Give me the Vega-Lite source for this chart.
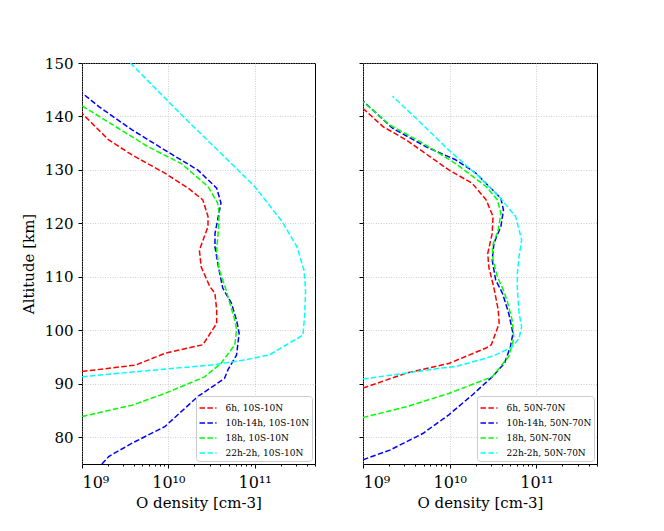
{
  "$schema": "https://vega.github.io/schema/vega-lite/v6.json",
  "padding": {"left": 20, "top": 55, "right": 5, "bottom": 5},
  "background": "white",
  "config": {
    "font": "DejaVu Serif",
    "view": {"stroke": "#000000", "strokeWidth": 1},
    "axis": {
      "labelFont": "DejaVu Serif", "titleFont": "DejaVu Serif",
      "labelFontSize": 15, "titleFontSize": 15, "titleFontWeight": "normal",
      "labelColor": "#000000", "titleColor": "#000000",
      "domain": false, "tickColor": "#000000",
      "grid": true, "gridColor": "#b0b0b0", "gridDash": [1, 1.5], "gridWidth": 0.6
    },
    "legend": {
      "labelFont": "DejaVu Serif", "labelFontSize": 9, "labelColor": "#000000",
      "symbolType": "stroke", "symbolStrokeWidth": 1.5, "symbolDash": [5.5, 2.4],
      "symbolSize": 289, "rowPadding": -4.5, "labelOffset": 8,
      "padding": 2.5, "strokeColor": "#cccccc", "fillColor": "rgba(255,255,255,0.85)",
      "cornerRadius": 3
    }
  },
  "datasets": {
    "prof": [
      {"p":"L","s":"6h, 10S-10N","a":140.6,"d":1e9},
      {"p":"L","s":"6h, 10S-10N","a":135.6,"d":2.04e9},
      {"p":"L","s":"6h, 10S-10N","a":132.8,"d":3.8e9},
      {"p":"L","s":"6h, 10S-10N","a":129.4,"d":9.12e9},
      {"p":"L","s":"6h, 10S-10N","a":126.6,"d":1.7e10},
      {"p":"L","s":"6h, 10S-10N","a":124.4,"d":2.51e10},
      {"p":"L","s":"6h, 10S-10N","a":121.3,"d":2.88e10},
      {"p":"L","s":"6h, 10S-10N","a":119.4,"d":2.88e10},
      {"p":"L","s":"6h, 10S-10N","a":115.0,"d":2.29e10},
      {"p":"L","s":"6h, 10S-10N","a":111.9,"d":2.4e10},
      {"p":"L","s":"6h, 10S-10N","a":108.2,"d":3.02e10},
      {"p":"L","s":"6h, 10S-10N","a":106.9,"d":3.47e10},
      {"p":"L","s":"6h, 10S-10N","a":103.8,"d":3.63e10},
      {"p":"L","s":"6h, 10S-10N","a":101.3,"d":3.63e10},
      {"p":"L","s":"6h, 10S-10N","a":97.3,"d":2.51e10},
      {"p":"L","s":"6h, 10S-10N","a":95.7,"d":9.12e9},
      {"p":"L","s":"6h, 10S-10N","a":93.5,"d":4.17e9},
      {"p":"L","s":"6h, 10S-10N","a":92.3,"d":1e9},

      {"p":"L","s":"10h-14h, 10S-10N","a":144.4,"d":1e9},
      {"p":"L","s":"10h-14h, 10S-10N","a":141.8,"d":1.58e9},
      {"p":"L","s":"10h-14h, 10S-10N","a":137.5,"d":3.8e9},
      {"p":"L","s":"10h-14h, 10S-10N","a":133.7,"d":9.12e9},
      {"p":"L","s":"10h-14h, 10S-10N","a":130.0,"d":2.19e10},
      {"p":"L","s":"10h-14h, 10S-10N","a":126.6,"d":3.63e10},
      {"p":"L","s":"10h-14h, 10S-10N","a":123.8,"d":4.07e10},
      {"p":"L","s":"10h-14h, 10S-10N","a":120.6,"d":3.72e10},
      {"p":"L","s":"10h-14h, 10S-10N","a":118.1,"d":3.47e10},
      {"p":"L","s":"10h-14h, 10S-10N","a":115.6,"d":3.47e10},
      {"p":"L","s":"10h-14h, 10S-10N","a":111.9,"d":3.8e10},
      {"p":"L","s":"10h-14h, 10S-10N","a":107.9,"d":4.27e10},
      {"p":"L","s":"10h-14h, 10S-10N","a":105.1,"d":5.37e10},
      {"p":"L","s":"10h-14h, 10S-10N","a":101.9,"d":6.17e10},
      {"p":"L","s":"10h-14h, 10S-10N","a":99.45,"d":6.61e10},
      {"p":"L","s":"10h-14h, 10S-10N","a":95.4,"d":6.17e10},
      {"p":"L","s":"10h-14h, 10S-10N","a":92.6,"d":4.9e10},
      {"p":"L","s":"10h-14h, 10S-10N","a":91.0,"d":4.47e10},
      {"p":"L","s":"10h-14h, 10S-10N","a":87.6,"d":2.19e10},
      {"p":"L","s":"10h-14h, 10S-10N","a":82.0,"d":9.12e9},
      {"p":"L","s":"10h-14h, 10S-10N","a":78.9,"d":3.8e9},
      {"p":"L","s":"10h-14h, 10S-10N","a":76.4,"d":2.04e9},
      {"p":"L","s":"10h-14h, 10S-10N","a":75.0,"d":1.7e9},

      {"p":"L","s":"18h, 10S-10N","a":142.0,"d":1e9},
      {"p":"L","s":"18h, 10S-10N","a":138.1,"d":2.45e9},
      {"p":"L","s":"18h, 10S-10N","a":134.3,"d":5.89e9},
      {"p":"L","s":"18h, 10S-10N","a":131.2,"d":1.41e10},
      {"p":"L","s":"18h, 10S-10N","a":126.9,"d":2.88e10},
      {"p":"L","s":"18h, 10S-10N","a":123.8,"d":3.72e10},
      {"p":"L","s":"18h, 10S-10N","a":121.9,"d":3.89e10},
      {"p":"L","s":"18h, 10S-10N","a":118.8,"d":3.8e10},
      {"p":"L","s":"18h, 10S-10N","a":115.0,"d":3.63e10},
      {"p":"L","s":"18h, 10S-10N","a":111.3,"d":3.89e10},
      {"p":"L","s":"18h, 10S-10N","a":107.5,"d":4.68e10},
      {"p":"L","s":"18h, 10S-10N","a":106.3,"d":4.9e10},
      {"p":"L","s":"18h, 10S-10N","a":101.9,"d":5.89e10},
      {"p":"L","s":"18h, 10S-10N","a":100.1,"d":6.17e10},
      {"p":"L","s":"18h, 10S-10N","a":97.3,"d":5.89e10},
      {"p":"L","s":"18h, 10S-10N","a":93.8,"d":4.07e10},
      {"p":"L","s":"18h, 10S-10N","a":91.3,"d":2.63e10},
      {"p":"L","s":"18h, 10S-10N","a":88.2,"d":9.12e9},
      {"p":"L","s":"18h, 10S-10N","a":86.0,"d":3.8e9},
      {"p":"L","s":"18h, 10S-10N","a":83.9,"d":1e9},

      {"p":"L","s":"22h-2h, 10S-10N","a":150.0,"d":3.63e9},
      {"p":"L","s":"22h-2h, 10S-10N","a":142.8,"d":1e10},
      {"p":"L","s":"22h-2h, 10S-10N","a":139.7,"d":1.55e10},
      {"p":"L","s":"22h-2h, 10S-10N","a":131.2,"d":5.37e10},
      {"p":"L","s":"22h-2h, 10S-10N","a":126.9,"d":1e11},
      {"p":"L","s":"22h-2h, 10S-10N","a":120.3,"d":2.09e11},
      {"p":"L","s":"22h-2h, 10S-10N","a":115.6,"d":3.09e11},
      {"p":"L","s":"22h-2h, 10S-10N","a":111.3,"d":3.72e11},
      {"p":"L","s":"22h-2h, 10S-10N","a":107.5,"d":3.89e11},
      {"p":"L","s":"22h-2h, 10S-10N","a":103.0,"d":3.8e11},
      {"p":"L","s":"22h-2h, 10S-10N","a":99.1,"d":3.63e11},
      {"p":"L","s":"22h-2h, 10S-10N","a":95.4,"d":1.48e11},
      {"p":"L","s":"22h-2h, 10S-10N","a":94.45,"d":7.59e10},
      {"p":"L","s":"22h-2h, 10S-10N","a":93.5,"d":3.16e10},
      {"p":"L","s":"22h-2h, 10S-10N","a":92.6,"d":7.08e9},
      {"p":"L","s":"22h-2h, 10S-10N","a":91.3,"d":1e9},

      {"p":"R","s":"6h, 50N-70N","a":141.5,"d":1e9},
      {"p":"R","s":"6h, 50N-70N","a":138.1,"d":1.7e9},
      {"p":"R","s":"6h, 50N-70N","a":135.6,"d":3.16e9},
      {"p":"R","s":"6h, 50N-70N","a":130.0,"d":9.77e9},
      {"p":"R","s":"6h, 50N-70N","a":127.5,"d":1.82e10},
      {"p":"R","s":"6h, 50N-70N","a":124.4,"d":2.63e10},
      {"p":"R","s":"6h, 50N-70N","a":121.3,"d":3.16e10},
      {"p":"R","s":"6h, 50N-70N","a":118.1,"d":3.09e10},
      {"p":"R","s":"6h, 50N-70N","a":114.4,"d":2.75e10},
      {"p":"R","s":"6h, 50N-70N","a":111.9,"d":2.82e10},
      {"p":"R","s":"6h, 50N-70N","a":107.9,"d":3.24e10},
      {"p":"R","s":"6h, 50N-70N","a":103.8,"d":3.63e10},
      {"p":"R","s":"6h, 50N-70N","a":101.3,"d":3.72e10},
      {"p":"R","s":"6h, 50N-70N","a":97.3,"d":3.02e10},
      {"p":"R","s":"6h, 50N-70N","a":96.7,"d":2.63e10},
      {"p":"R","s":"6h, 50N-70N","a":93.8,"d":9.77e9},
      {"p":"R","s":"6h, 50N-70N","a":92.0,"d":3.16e9},
      {"p":"R","s":"6h, 50N-70N","a":89.2,"d":1e9},

      {"p":"R","s":"10h-14h, 50N-70N","a":142.9,"d":1e9},
      {"p":"R","s":"10h-14h, 50N-70N","a":137.8,"d":2.19e9},
      {"p":"R","s":"10h-14h, 50N-70N","a":134.3,"d":5.37e9},
      {"p":"R","s":"10h-14h, 50N-70N","a":131.9,"d":1.17e10},
      {"p":"R","s":"10h-14h, 50N-70N","a":129.4,"d":2.0e10},
      {"p":"R","s":"10h-14h, 50N-70N","a":124.7,"d":3.89e10},
      {"p":"R","s":"10h-14h, 50N-70N","a":122.5,"d":4.17e10},
      {"p":"R","s":"10h-14h, 50N-70N","a":119.4,"d":3.89e10},
      {"p":"R","s":"10h-14h, 50N-70N","a":116.3,"d":3.24e10},
      {"p":"R","s":"10h-14h, 50N-70N","a":113.2,"d":3.09e10},
      {"p":"R","s":"10h-14h, 50N-70N","a":109.4,"d":3.39e10},
      {"p":"R","s":"10h-14h, 50N-70N","a":106.9,"d":4.07e10},
      {"p":"R","s":"10h-14h, 50N-70N","a":103.2,"d":4.79e10},
      {"p":"R","s":"10h-14h, 50N-70N","a":99.45,"d":5.37e10},
      {"p":"R","s":"10h-14h, 50N-70N","a":96.9,"d":5.01e10},
      {"p":"R","s":"10h-14h, 50N-70N","a":93.8,"d":4.27e10},
      {"p":"R","s":"10h-14h, 50N-70N","a":91.3,"d":3.09e10},
      {"p":"R","s":"10h-14h, 50N-70N","a":87.9,"d":1.82e10},
      {"p":"R","s":"10h-14h, 50N-70N","a":84.2,"d":9.77e9},
      {"p":"R","s":"10h-14h, 50N-70N","a":80.7,"d":4.9e9},
      {"p":"R","s":"10h-14h, 50N-70N","a":77.6,"d":2.04e9},
      {"p":"R","s":"10h-14h, 50N-70N","a":75.8,"d":1e9},

      {"p":"R","s":"18h, 50N-70N","a":142.8,"d":1e9},
      {"p":"R","s":"18h, 50N-70N","a":138.4,"d":2.04e9},
      {"p":"R","s":"18h, 50N-70N","a":135.0,"d":4.9e9},
      {"p":"R","s":"18h, 50N-70N","a":131.2,"d":1.17e10},
      {"p":"R","s":"18h, 50N-70N","a":126.9,"d":2.63e10},
      {"p":"R","s":"18h, 50N-70N","a":124.4,"d":3.55e10},
      {"p":"R","s":"18h, 50N-70N","a":121.9,"d":3.89e10},
      {"p":"R","s":"18h, 50N-70N","a":118.8,"d":3.63e10},
      {"p":"R","s":"18h, 50N-70N","a":115.6,"d":3.09e10},
      {"p":"R","s":"18h, 50N-70N","a":113.2,"d":3.16e10},
      {"p":"R","s":"18h, 50N-70N","a":110.0,"d":3.55e10},
      {"p":"R","s":"18h, 50N-70N","a":107.9,"d":4.07e10},
      {"p":"R","s":"18h, 50N-70N","a":105.7,"d":4.57e10},
      {"p":"R","s":"18h, 50N-70N","a":101.9,"d":5.25e10},
      {"p":"R","s":"18h, 50N-70N","a":98.5,"d":5.5e10},
      {"p":"R","s":"18h, 50N-70N","a":95.1,"d":4.79e10},
      {"p":"R","s":"18h, 50N-70N","a":91.3,"d":3.09e10},
      {"p":"R","s":"18h, 50N-70N","a":88.2,"d":9.77e9},
      {"p":"R","s":"18h, 50N-70N","a":85.7,"d":3.16e9},
      {"p":"R","s":"18h, 50N-70N","a":83.7,"d":1e9},

      {"p":"R","s":"22h-2h, 50N-70N","a":143.8,"d":2.19e9},
      {"p":"R","s":"22h-2h, 50N-70N","a":139.7,"d":4.07e9},
      {"p":"R","s":"22h-2h, 50N-70N","a":133.7,"d":9.77e9},
      {"p":"R","s":"22h-2h, 50N-70N","a":128.7,"d":2.19e10},
      {"p":"R","s":"22h-2h, 50N-70N","a":125.0,"d":3.72e10},
      {"p":"R","s":"22h-2h, 50N-70N","a":121.3,"d":5.75e10},
      {"p":"R","s":"22h-2h, 50N-70N","a":116.9,"d":6.76e10},
      {"p":"R","s":"22h-2h, 50N-70N","a":113.8,"d":6.31e10},
      {"p":"R","s":"22h-2h, 50N-70N","a":110.7,"d":6.03e10},
      {"p":"R","s":"22h-2h, 50N-70N","a":107.5,"d":6.03e10},
      {"p":"R","s":"22h-2h, 50N-70N","a":103.2,"d":6.31e10},
      {"p":"R","s":"22h-2h, 50N-70N","a":100.7,"d":6.76e10},
      {"p":"R","s":"22h-2h, 50N-70N","a":98.5,"d":6.31e10},
      {"p":"R","s":"22h-2h, 50N-70N","a":96.9,"d":5.25e10},
      {"p":"R","s":"22h-2h, 50N-70N","a":95.4,"d":3.39e10},
      {"p":"R","s":"22h-2h, 50N-70N","a":94.8,"d":2.63e10},
      {"p":"R","s":"22h-2h, 50N-70N","a":93.2,"d":1.17e10},
      {"p":"R","s":"22h-2h, 50N-70N","a":92.9,"d":7.59e9},
      {"p":"R","s":"22h-2h, 50N-70N","a":92.0,"d":3.16e9},
      {"p":"R","s":"22h-2h, 50N-70N","a":90.9,"d":1e9}
    ]
  },
  "spacing": 42,
  "resolve": {"scale": {"color": "independent"}},
  "hconcat": [
    {
      "width": 233, "height": 401,
      "data": {"name": "prof"},
      "transform": [{"filter": "datum.p === 'L'"}],
      "mark": {"type": "line", "strokeDash": [5.5, 2.4], "strokeWidth": 1.5, "clip": true},
      "encoding": {
        "x": {
          "field": "d", "type": "quantitative",
          "scale": {"type": "log", "domain": [1e9, 5e11], "nice": false},
          "axis": {
            "title": "O density [cm-3]", "titlePadding": 5,
            "values": [1e9,2e9,3e9,4e9,5e9,6e9,7e9,8e9,9e9,1e10,2e10,3e10,4e10,5e10,6e10,7e10,8e10,9e10,1e11,2e11,3e11,4e11,5e11],
            "labelExpr": "datum.value == 1e9 ? '10⁹' : datum.value == 1e10 ? '10¹⁰' : datum.value == 1e11 ? '10¹¹' : ''",
            "labelPadding": 6, "labelFontSize": 16,
            "tickSize": {"condition": {"test": "datum.value == 1e9 || datum.value == 1e10 || datum.value == 1e11", "value": 4}, "value": 2},
            "gridOpacity": {"condition": {"test": "datum.value == 1e9 || datum.value == 1e10 || datum.value == 1e11", "value": 1}, "value": 0}
          }
        },
        "y": {
          "field": "a", "type": "quantitative",
          "scale": {"domain": [75, 150], "nice": false, "zero": false},
          "axis": {"title": "Altitude [km]", "values": [80, 90, 100, 110, 120, 130, 140, 150], "tickSize": 4, "labelPadding": 5, "titlePadding": 8}
        },
        "color": {
          "field": "s", "type": "nominal",
          "scale": {"domain": ["6h, 10S-10N", "10h-14h, 10S-10N", "18h, 10S-10N", "22h-2h, 10S-10N"], "range": ["#ff0000", "#0000ff", "#00ff00", "#00ffff"]},
          "legend": {"orient": "bottom-right", "offset": 3, "title": null}
        },
        "order": {"field": "a", "type": "quantitative"}
      }
    },
    {
      "width": 234, "height": 401,
      "data": {"name": "prof"},
      "transform": [{"filter": "datum.p === 'R'"}],
      "mark": {"type": "line", "strokeDash": [5.5, 2.4], "strokeWidth": 1.5, "clip": true},
      "encoding": {
        "x": {
          "field": "d", "type": "quantitative",
          "scale": {"type": "log", "domain": [1e9, 5e11], "nice": false},
          "axis": {
            "title": "O density [cm-3]", "titlePadding": 5,
            "values": [1e9,2e9,3e9,4e9,5e9,6e9,7e9,8e9,9e9,1e10,2e10,3e10,4e10,5e10,6e10,7e10,8e10,9e10,1e11,2e11,3e11,4e11,5e11],
            "labelExpr": "datum.value == 1e9 ? '10⁹' : datum.value == 1e10 ? '10¹⁰' : datum.value == 1e11 ? '10¹¹' : ''",
            "labelPadding": 6, "labelFontSize": 16,
            "tickSize": {"condition": {"test": "datum.value == 1e9 || datum.value == 1e10 || datum.value == 1e11", "value": 4}, "value": 2},
            "gridOpacity": {"condition": {"test": "datum.value == 1e9 || datum.value == 1e10 || datum.value == 1e11", "value": 1}, "value": 0}
          }
        },
        "y": {
          "field": "a", "type": "quantitative",
          "scale": {"domain": [75, 150], "nice": false, "zero": false},
          "axis": {"title": null, "labels": false, "values": [80, 90, 100, 110, 120, 130, 140, 150], "tickSize": 4}
        },
        "color": {
          "field": "s", "type": "nominal",
          "scale": {"domain": ["6h, 50N-70N", "10h-14h, 50N-70N", "18h, 50N-70N", "22h-2h, 50N-70N"], "range": ["#ff0000", "#0000ff", "#00ff00", "#00ffff"]},
          "legend": {"orient": "bottom-right", "offset": 3, "title": null}
        },
        "order": {"field": "a", "type": "quantitative"}
      }
    }
  ]
}
